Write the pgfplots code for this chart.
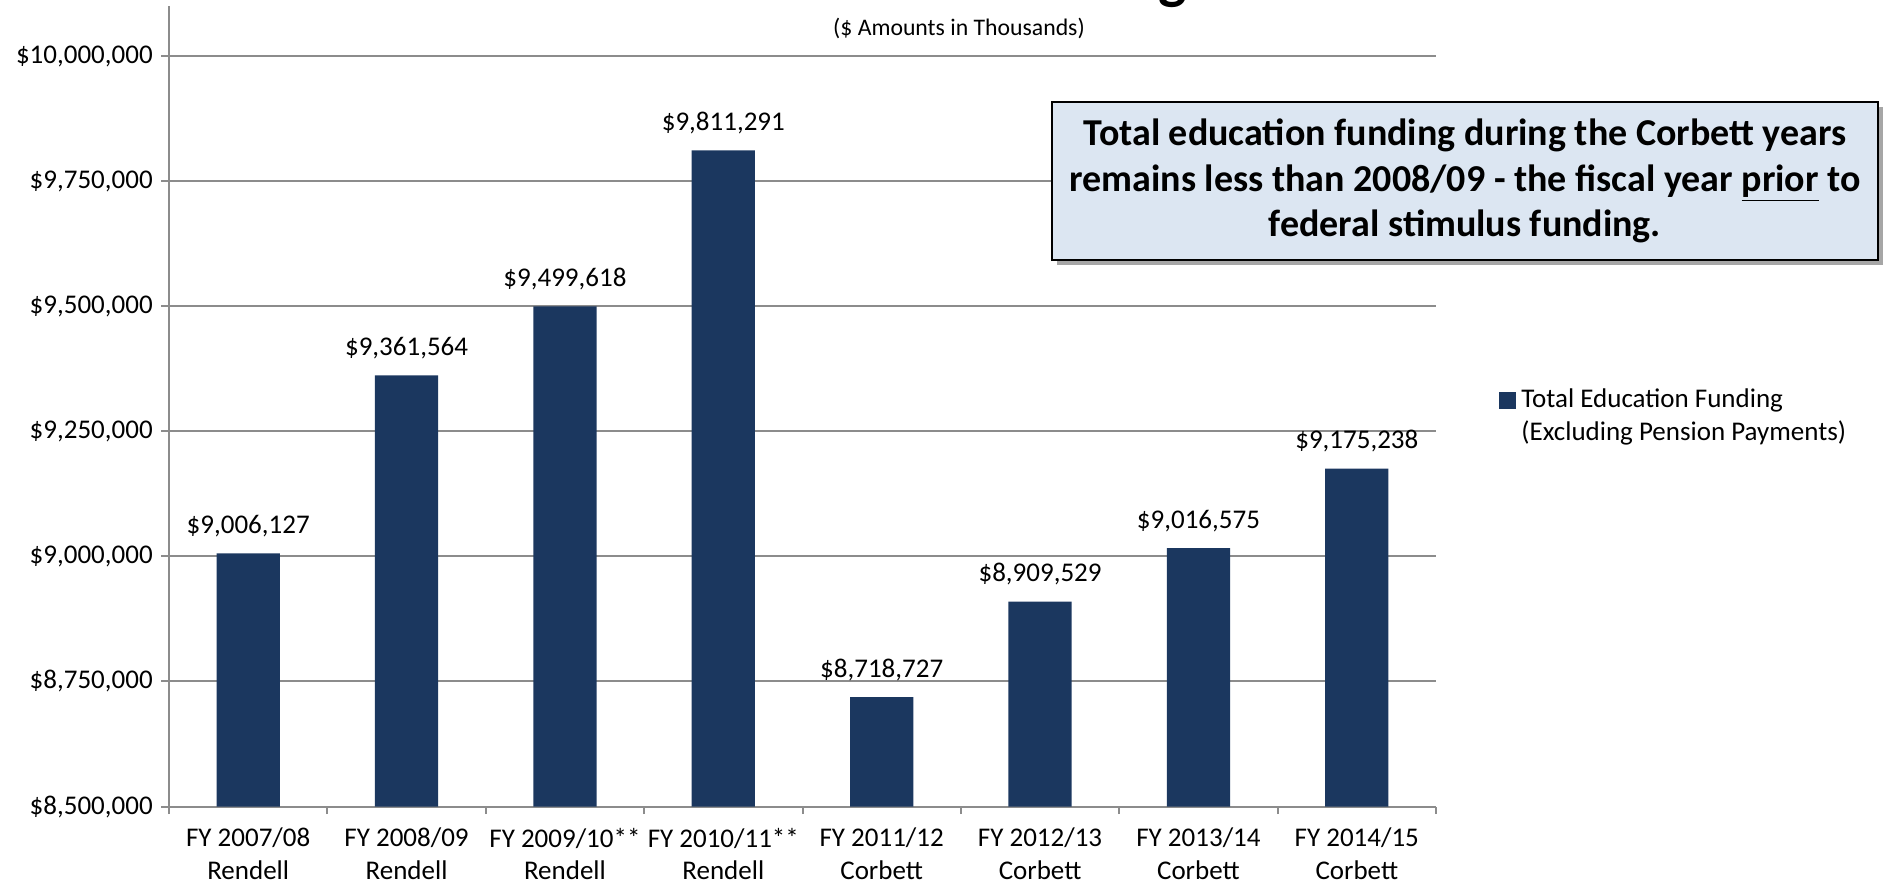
\documentclass[border=0pt]{standalone}
\usepackage{fontspec}
\setmainfont{Carlito}
\usepackage{pgfplots}
\pgfplotsset{compat=1.18}
\usepackage{pgfplotstable}
\usetikzlibrary{shadows}
\definecolor{barnavy}{HTML}{1B375F}
\definecolor{gridgray}{HTML}{8C8C8C}
\definecolor{boxblue}{HTML}{DCE6F2}

% funding in thousands of dollars
\pgfplotstableread{
x y label
0 9006127 {\$9,006,127}
1 9361564 {\$9,361,564}
2 9499618 {\$9,499,618}
3 9811291 {\$9,811,291}
4 8718727 {\$8,718,727}
5 8909529 {\$8,909,529}
6 9016575 {\$9,016,575}
7 9175238 {\$9,175,238}
}\fundtable

\newcommand{\lblfont}{\fontsize{10.8}{13}\selectfont}

\begin{document}
\begin{tikzpicture}[x=1pt,y=1pt]
\begin{axis}[
    scale only axis,
    width=506.8pt, height=320.2pt,
    xmin=-0.5, xmax=7.5,
    ymin=8500000, ymax=10100000,
    ybar, bar width=25.3pt,
    axis x line*=bottom, axis y line*=left,
    axis line style={gridgray, line width=0.8pt, -},
    tick align=outside,
    major tick length=3pt,
    tick style={gridgray, line width=0.8pt},
    ymajorgrids,
    major grid style={gridgray, line width=0.8pt},
    ytick={8500000,8750000,9000000,9250000,9500000,9750000,10000000},
    yticklabels={{\$8,500,000},{\$8,750,000},{\$9,000,000},{\$9,250,000},{\$9,500,000},{\$9,750,000},{\$10,000,000}},
    scaled y ticks=false,
    xtick={-0.5,0.5,...,7.5},
    xticklabels={{FY 2007/08\\Rendell},{FY 2008/09\\Rendell},{FY 2009/10**\\Rendell},{FY 2010/11**\\Rendell},
                 {FY 2011/12\\Corbett},{FY 2012/13\\Corbett},{FY 2013/14\\Corbett},{FY 2014/15\\Corbett},{}},
    xticklabel style={xshift=31.68pt, align=center, font=\lblfont, yshift=-2pt},
    yticklabel style={font=\lblfont},
    legend style={at={(1.0497,0.487)}, anchor=west, draw=none, fill=none, inner sep=0pt,
                  font=\lblfont, cells={align=left, anchor=west}},
    legend image code/.code={\fill[barnavy] (0pt,3.1pt) rectangle (6.8pt,9.9pt);},
]
\addplot[fill=barnavy, draw=none,
    nodes near coords, point meta=explicit symbolic,
    nodes near coords style={font=\lblfont, text=black, anchor=south, yshift=3pt}]
    table[x=x, y=y, meta=label]{\fundtable};
\addlegendentry{Total Education Funding\\(Excluding Pension Payments)}
\coordinate (sw) at (rel axis cs:0,0);
\end{axis}

\path (sw) ++(-67.6,-31.8) coordinate (O);
\begin{scope}[shift={(O)}]
% title, cut off by the top edge as in the original
\node[anchor=base east, font=\fontsize{24}{28}\selectfont\bfseries, inner sep=0pt] at (475,355.5) {Total Education Funding};
\node[font=\fontsize{9.5}{11}\selectfont, inner sep=0pt] at (383.6,343) {(\$ Amounts in Thousands)};

\node[draw=black, line width=0.8pt, fill=boxblue,
      drop shadow={shadow xshift=2pt, shadow yshift=-2pt, fill=black, opacity=0.35},
      minimum width=330.4pt, minimum height=63.4pt, align=center,
      font=\fontsize{15.2}{18.2}\selectfont\bfseries] at (586,282)
  {Total education funding during the Corbett years\\
   remains less than 2008/09 - the fiscal year \underline{prior} to\\
   federal stimulus funding.};

\pgfresetboundingbox
\useasboundingbox (0,0) rectangle (758.4,354.4);
\end{scope}
\end{tikzpicture}
\end{document}
